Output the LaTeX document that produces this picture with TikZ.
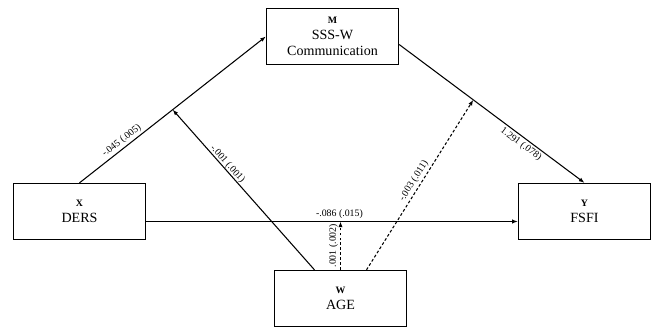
\documentclass[tikz,border=0pt]{standalone}
\usepackage{fontspec}
\setmainfont{Liberation Serif}
\usetikzlibrary{arrows.meta,calc}

\begin{document}
\begin{tikzpicture}[
x=0.025cm,y=0.025cm,
var/.style={draw,line width=0.9pt,minimum width=3.3cm,minimum height=1.4cm,align=center,inner sep=0pt,font=\fontsize{10}{11.5}\selectfont},
coef/.style={font=\fontsize{7}{8}\selectfont,sloped,inner sep=1.5pt},
path/.style={->,line width=0.75pt},
modpath/.style={path,dash pattern=on 2pt off 1.5pt},
>={Latex[length=4pt,width=3pt]}]
\useasboundingbox (0,0) rectangle (654,329);
\node[var] (m) at (332.5,292.5) {{\scriptsize\bfseries M}\\SSS-W\\Communication};
\node[var] (x) at (79.5,117.5) {{\scriptsize\bfseries X}\\DERS};
\node[var] (y) at (584.5,117.5) {{\scriptsize\bfseries Y}\\FSFI};
\node[var] (w) at (340.5,30.5) {{\scriptsize\bfseries W}\\AGE};
\draw[path] (x.north) -- coordinate[pos=.5] (xmmid) node[coef,pos=.25,above] {-.045 (.005)} (m.west);
\draw[path] ([yshift=-0.2cm]m.east) -- coordinate[pos=.4] (mymid) node[coef,pos=.68,below] {1.291 (.078)} (y.north);
\draw[path] ([yshift=-0.25cm]x.east) coordinate (xyl) -- node[coef,pos=.52,above] {-.086 (.015)} ([yshift=-0.25cm]y.west);
\draw[path] ([xshift=-0.65cm]w.north) -- node[coef,pos=.64,above,inner sep=0pt] {-.001 (.001)} (xmmid);
\draw[modpath] (w.north) -- node[coef,pos=.5,above] {.001 (.002)} (w.north |- xyl);
\draw[modpath] ([xshift=0.65cm]w.north) -- node[coef,pos=.5,above] {-.003 (.011)} (mymid);
\end{tikzpicture}
\end{document}
